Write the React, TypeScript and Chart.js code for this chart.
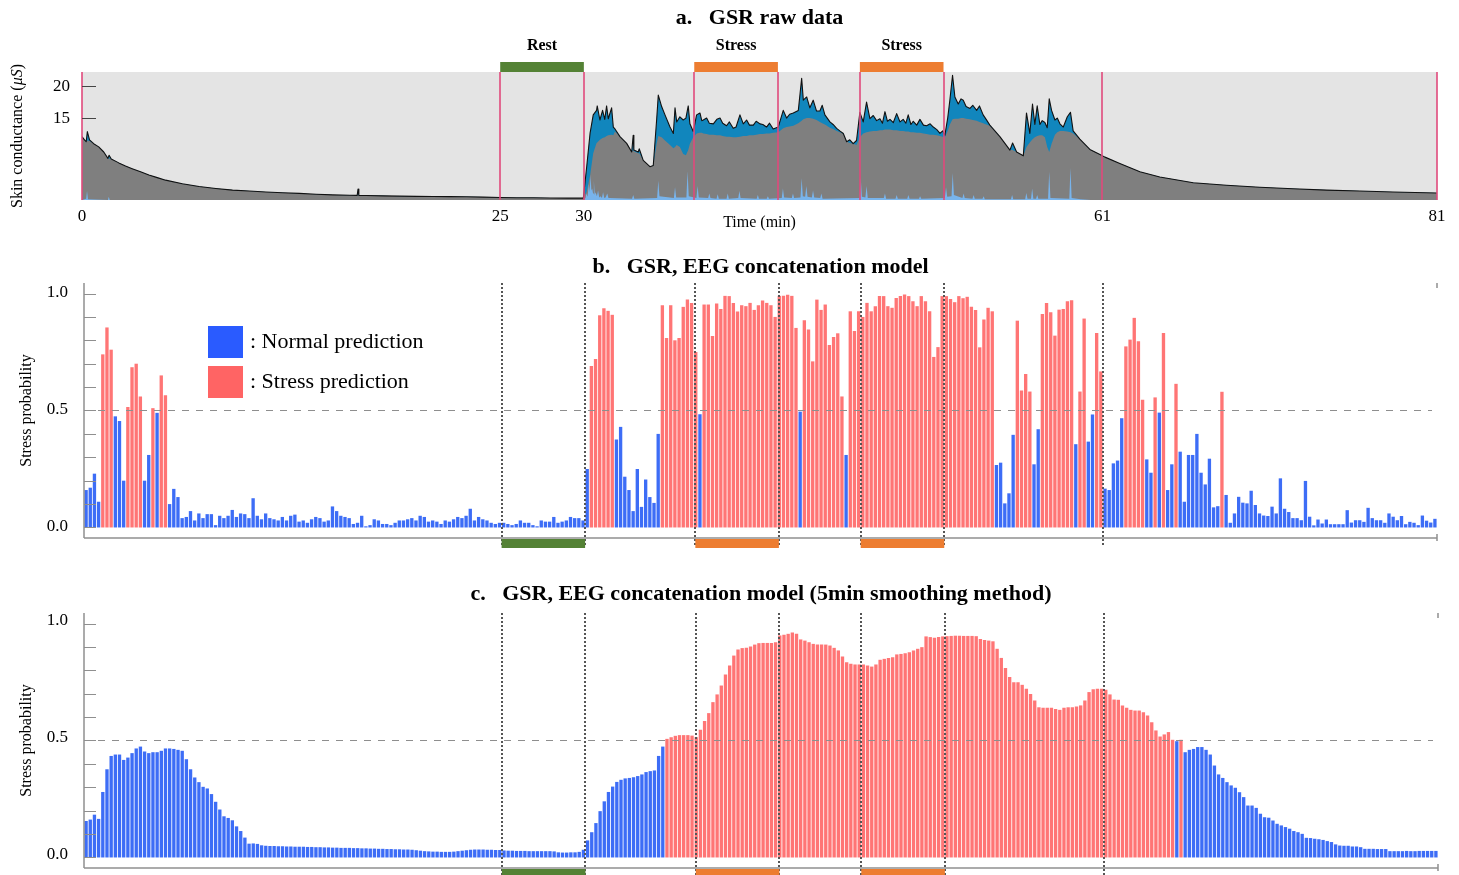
import React, { useEffect, useRef } from 'react';
import { Chart, registerables } from 'chart.js';

Chart.register(...registerables);

const W = 1459;
const SERIF = '"Liberation Serif", "Times New Roman", Times, serif';

// ---------------- session timeline (minutes) ----------------
const SESSION_END = 81;
const EVENT_TIMES = [25, 30, 36.6, 41.6, 46.5, 51.5, 61];
const PHASE_LABELS = ['Rest', 'Stress', 'Stress'];
const PHASE_START = [25, 36.6, 46.5];
const PHASE_END = [30, 41.6, 51.5];
const PHASE_KIND = ['rest', 'stress', 'stress'];

// ---------------- a. GSR raw data ----------------
const GSR_X_TICKS = [0, 25, 30, 61, 81];
const GSR_Y_TICKS = [15, 20];
const GSR_Y_MIN = 2.2;
const GSR_Y_MAX = 22.2;

const GSR_TIME_REST = [0, 0.15, 0.25, 0.32, 0.45, 0.7, 1.0, 1.3, 1.55, 1.62, 1.75, 2.2, 2.6, 3.0, 3.5, 4.0, 4.5, 5.0, 6.0, 7.0, 8.0, 9.0, 10, 11, 12, 13, 14, 15, 16, 16.45, 16.5, 16.55, 17, 18, 19, 20, 21, 22, 23, 24, 25, 26, 27, 28, 29, 29.97];
const GSR_RAW_REST = [12.1, 11.6, 11.3, 12.9, 11.6, 11.0, 10.5, 9.7, 8.7, 9.2, 8.6, 8.0, 7.5, 7.1, 6.6, 6.1, 5.7, 5.3, 4.75, 4.3, 4.0, 3.75, 3.6, 3.45, 3.33, 3.23, 3.1, 3.0, 2.95, 2.93, 3.9, 2.93, 2.9, 2.85, 2.8, 2.77, 2.75, 2.72, 2.7, 2.65, 2.6, 2.56, 2.54, 2.52, 2.5, 2.5];
const GSR_TONIC_REST = [12.1, 11.6, 11.3, 11.5, 11.4, 11.0, 10.5, 9.7, 8.7, 8.7, 8.6, 8.0, 7.5, 7.1, 6.6, 6.1, 5.7, 5.3, 4.75, 4.3, 4.0, 3.75, 3.6, 3.45, 3.33, 3.23, 3.1, 3.0, 2.95, 2.93, 2.93, 2.93, 2.9, 2.85, 2.8, 2.77, 2.75, 2.72, 2.7, 2.65, 2.6, 2.56, 2.54, 2.52, 2.5, 2.5];

const GSR_TIME_TASK = [
  30.17, 30.37, 30.56, 30.76, 30.8, 30.96, 31.12, 31.25, 31.36, 31.46,
  31.66, 31.76, 31.86, 32.16, 32.56, 32.86, 32.95, 32.99, 33.25, 33.31,
  33.55, 33.95, 34.15, 34.35, 34.45, 34.65, 34.85, 35.15, 35.35, 35.45,
  35.55, 35.74, 35.94, 36.1, 36.24, 36.34, 36.54, 36.74, 36.94, 37.05,
  37.14, 37.34, 37.5, 37.74, 37.95, 38.14, 38.3, 38.53, 38.7, 38.93,
  39.1, 39.33, 39.53, 39.73, 39.9, 40.13, 40.3, 40.53, 40.7, 40.92,
  41.1, 41.32, 41.62, 41.92, 42.12, 42.3, 42.52, 42.82, 43.02, 43.12,
  43.32, 43.51, 43.71, 43.91, 44.11, 44.25, 44.41, 44.71, 44.9, 45.11,
  45.3, 45.51, 45.71, 45.9, 46.1, 46.3, 46.5, 46.7, 46.9, 47.1,
  47.3, 47.5, 47.7, 47.85, 48.0, 48.15, 48.3, 48.5, 48.7, 48.9,
  49.09, 49.25, 49.39, 49.55, 49.69, 49.9, 50.09, 50.3, 50.49, 50.7,
  50.89, 51.1, 51.29, 51.45, 51.58, 51.75, 51.88, 52.04, 52.18, 52.38,
  52.55, 52.68, 52.85, 53.08, 53.25, 53.48, 53.65, 53.87, 54.05, 54.27,
  54.87, 55.47, 55.63, 55.87, 56.27, 56.46, 56.66, 56.82, 56.96, 57.1,
  57.26, 57.4, 57.56, 57.7, 57.82, 57.96, 58.16, 58.3, 58.46, 58.66,
  58.9, 59.09, 59.25, 59.65, 60.25, 60.85, 61.15, 62.04, 63.24, 64.43,
  66.43, 68.42, 70.41, 72.4, 74.4, 76.39, 78.38, 81,
];
const GSR_RAW_TASK = [
  7.4, 12.6, 15.5, 16.2, 16.9, 14.7, 16.2, 14.8, 16.9, 14.9,
  16.6, 13.6, 13.3, 12.1, 11.05, 9.7, 12.3, 10.0, 9.7, 10.2,
  8.4, 7.4, 7.6, 14.7, 18.6, 16.8, 15.5, 13.6, 12.6, 16.6,
  14.4, 15.2, 14.7, 15.0, 16.9, 14.1, 12.9, 15.5, 15.8, 14.6,
  14.7, 15.0, 14.2, 14.1, 14.8, 15.0, 14.2, 13.8, 14.4, 13.4,
  13.6, 15.5, 14.1, 14.7, 13.9, 13.9, 14.5, 14.1, 14.0, 13.6,
  14.2, 13.3, 13.6, 16.2, 15.0, 15.6, 15.8, 16.2, 21.2, 17.8,
  18.3, 16.6, 17.8, 16.1, 16.1, 17.0, 15.5, 14.4, 14.0, 13.4,
  13.0, 12.6, 11.3, 11.6, 11.0, 11.5, 15.9, 14.4, 17.5, 14.9,
  15.4, 14.6, 14.9, 14.2, 16.0, 14.5, 14.8, 14.3, 15.7, 14.4,
  14.8, 14.2, 15.5, 14.0, 14.5, 13.9, 14.8, 13.9, 13.8, 14.1,
  13.6, 13.2, 12.6, 13.0, 12.3, 15.0, 17.8, 21.7, 18.3, 17.2,
  18.0, 17.8, 16.8, 16.5, 17.0, 16.2, 16.9, 15.5, 14.8, 13.9,
  12.1, 10.0, 11.1, 9.7, 9.1, 15.8, 12.6, 17.2, 14.0, 16.9,
  14.0, 14.6, 14.3, 13.5, 18.0, 16.2, 14.7, 15.0, 14.1, 13.6,
  15.2, 15.9, 13.0, 11.7, 10.1, 9.3, 8.9, 7.9, 6.6, 5.8,
  4.9, 4.5, 4.2, 3.95, 3.75, 3.6, 3.45, 3.3,
];
const GSR_TONIC_TASK = [
  3.5, 6.0, 9.5, 11.1, 11.2, 11.6, 11.9, 12.0, 12.2, 12.3,
  12.4, 12.3, 12.9, 12.1, 11.05, 9.7, 10.0, 9.8, 9.5, 9.5,
  8.4, 7.4, 7.6, 11.0, 12.2, 12.0, 11.5, 10.8, 10.3, 10.5,
  10.8, 10.5, 9.4, 9.2, 10.0, 11.0, 12.0, 12.6, 12.7, 12.7,
  12.6, 12.5, 12.4, 12.4, 12.3, 12.3, 12.2, 12.1, 12.1, 12.0,
  12.0, 12.1, 12.2, 12.2, 12.3, 12.3, 12.4, 12.5, 12.5, 12.6,
  12.6, 12.7, 12.8, 13.4, 13.6, 13.7, 13.8, 14.2, 14.6, 14.8,
  15.0, 15.0, 14.9, 14.7, 14.4, 14.2, 14.0, 13.5, 13.3, 13.0,
  12.8, 12.5, 11.3, 11.1, 11.0, 10.8, 12.0, 12.6, 12.8, 12.9,
  13.0, 13.0, 13.1, 13.1, 13.2, 13.2, 13.2, 13.1, 13.1, 13.0,
  13.0, 12.9, 12.9, 12.8, 12.8, 12.7, 12.7, 12.6, 12.5, 12.4,
  12.4, 12.3, 12.2, 12.1, 12.0, 13.0, 14.0, 14.8, 14.9, 14.9,
  15.0, 15.0, 14.9, 14.8, 14.7, 14.6, 14.4, 14.2, 14.0, 13.8,
  12.1, 10.0, 10.0, 9.7, 9.1, 10.5, 11.2, 11.7, 12.0, 12.2,
  12.3, 12.3, 12.0, 10.5, 9.7, 11.0, 12.4, 12.8, 13.0, 13.0,
  12.9, 12.8, 12.6, 11.7, 10.1, 9.3, 8.9, 7.9, 6.6, 5.8,
  4.9, 4.5, 4.2, 3.95, 3.75, 3.6, 3.45, 3.3,
];

// phasic component (amplitude above the axis floor)
const PHASIC_TIME = [
  0, 0.25, 0.3, 0.36, 1.55, 1.6, 1.66, 29.97, 30.1, 30.15,
  30.22, 30.3, 30.35, 30.4, 30.45, 30.5, 30.55, 30.6, 30.65, 30.7,
  30.78, 30.85, 30.92, 31.0, 31.08, 31.15, 31.22, 31.3, 31.4, 31.47,
  31.55, 32.88, 32.95, 33.02, 34.38, 34.45, 34.52, 35.38, 35.45, 35.52,
  36.13, 36.2, 36.27, 36.73, 36.8, 36.87, 37.43, 37.5, 37.57, 37.93,
  38.0, 38.07, 38.53, 38.6, 38.67, 39.23, 39.3, 39.37, 40.33, 40.4,
  40.47, 40.93, 41.0, 41.07, 41.83, 41.9, 41.97, 42.43, 42.5, 42.57,
  42.95, 43.02, 43.09, 43.23, 43.3, 43.37, 43.63, 43.7, 43.77, 44.13,
  44.2, 44.27, 46.48, 46.55, 46.62, 46.83, 46.9, 46.97, 47.93, 48.0,
  48.07, 48.63, 48.7, 48.77, 49.33, 49.4, 49.47, 50.03, 50.1, 50.17,
  51.58, 51.65, 51.72, 51.98, 52.05, 52.12, 52.63, 52.7, 52.77, 53.23,
  53.3, 53.37, 53.83, 53.9, 53.97, 55.53, 55.6, 55.67, 56.38, 56.45,
  56.52, 56.73, 56.8, 56.87, 57.03, 57.1, 57.17, 57.75, 57.82, 57.89,
  59.02, 59.09, 59.16, 59.7, 60.3, 81,
];
const PHASIC_AMP = [
  0, 0.2, 1.4, 0.1, 0, 0.5, 0, 0, 0.3, 1.0,
  0.5, 2.5, 1.2, 4.0, 1.5, 1.8, 1.0, 3.0, 0.8, 1.2,
  0.6, 1.5, 0.4, 0.6, 0.3, 1.2, 0.3, 0.4, 1.0, 0.3,
  0.3, 0.2, 0.8, 0.2, 0.3, 3.0, 0.6, 0.3, 2.0, 0.4,
  0.4, 4.5, 0.6, 0.3, 2.2, 0.4, 0.3, 1.0, 0.3, 0.2,
  0.9, 0.2, 0.2, 1.0, 0.2, 0.3, 1.4, 0.3, 0.2, 0.8,
  0.2, 0.2, 0.6, 0.2, 0.3, 1.8, 0.4, 0.3, 1.0, 0.3,
  0.4, 3.4, 0.6, 0.5, 2.2, 0.5, 0.4, 1.5, 0.4, 0.3,
  1.0, 0.2, 0.3, 3.6, 0.5, 0.4, 2.2, 0.3, 0.3, 1.0,
  0.2, 0.2, 0.8, 0.2, 0.2, 0.8, 0.2, 0.2, 0.6, 0.2,
  0.3, 2.0, 0.5, 0.6, 4.2, 0.8, 0.3, 1.0, 0.3, 0.2,
  0.8, 0.2, 0.2, 0.6, 0.1, 0.1, 0.8, 0.1, 0.1, 1.1,
  0.2, 0.2, 1.8, 0.2, 0.2, 0.8, 0.2, 0.2, 4.4, 0.3,
  0.2, 5.0, 0.3, 0.1, 0, 0,
];

// ---------------- b/c. stress probability (15 s windows, 4 per minute) ----------------
const WINDOWS_PER_MIN = 4;
const THRESHOLD = 0.5;
const PROB_LABEL_TICKS = [0, 0.5, 1.0];
const PROB_MINOR_TICKS = [0, 0.1, 0.2, 0.3, 0.4, 0.5, 0.6, 0.7, 0.8, 0.9, 1.0];

// b. concatenation model, raw window predictions
const PRED_B_0_25A = [
  0.16, 0.17, 0.23, 0.11, 0.74, 0.855, 0.76, 0.475, 0.455, 0.2,
  0.515, 0.685, 0.7, 0.56, 0.2, 0.31, 0.51, 0.49, 0.65, 0.565,
  0.1, 0.165, 0.13, 0.04, 0.045, 0.07, 0.03, 0.06, 0.04, 0.057,
  0.057, 0.01, 0.05, 0.04, 0.05, 0.075, 0.045, 0.06, 0.057, 0.04,
  0.125,
];
const PRED_B_0_25B = [
  0.05, 0.035, 0.06, 0.04, 0.035, 0.03, 0.045, 0.03, 0.05, 0.055,
  0.025, 0.03, 0.02, 0.035, 0.045, 0.04, 0.025, 0.03, 0.09, 0.07,
  0.05, 0.045, 0.04, 0.015, 0.02, 0.05, 0.005, 0.01, 0.035, 0.03,
  0.015, 0.015, 0.01, 0.02, 0.03, 0.03, 0.035, 0.04, 0.03, 0.05,
  0.045, 0.025, 0.03, 0.025, 0.015, 0.03, 0.025, 0.035, 0.045, 0.04,
  0.05, 0.08, 0.03, 0.045, 0.035, 0.03, 0.02, 0.015, 0.02,
];
const PRED_B_REST = [0.02, 0.015, 0.01, 0.015, 0.03, 0.02, 0.02, 0.01, 0.005, 0.03, 0.025, 0.025, 0.045, 0.02, 0.025, 0.03, 0.045, 0.04, 0.04, 0.03];
const PRED_B_PRE1 = [
  0.25, 0.69, 0.72, 0.907, 0.937, 0.926, 0.909, 0.376, 0.43, 0.217,
  0.16, 0.07, 0.25, 0.088, 0.205, 0.13, 0.105, 0.4, 0.95, 0.81,
  0.95, 0.8, 0.81, 0.943, 0.974, 0.96, 0.75,
];
const PRED_B_STRESS1 = [0.484, 0.953, 0.953, 0.818, 0.957, 0.934, 0.99, 0.989, 0.96, 0.923, 0.95, 0.946, 0.96, 0.93, 0.95, 0.97, 0.96, 0.95, 0.9, 0.99];
const PRED_B_MID = [0.99, 0.995, 0.99, 0.853, 0.495, 0.886, 0.846, 0.71, 0.974, 0.93, 0.953, 0.78, 0.814, 0.83, 0.56, 0.31, 0.924, 0.84, 0.924];
const PRED_B_STRESS2 = [0.9, 0.96, 0.924, 0.946, 0.989, 0.989, 0.946, 0.939, 0.981, 0.989, 0.996, 0.989, 0.967, 0.946, 0.989, 0.967, 0.924, 0.729, 0.771, 0.989];
const PRED_B_POST = [
  0.989, 0.977, 0.963, 0.989, 0.98, 0.986, 0.943, 0.93, 0.77, 0.889,
  0.939, 0.924, 0.267, 0.277, 0.103, 0.146, 0.396, 0.884, 0.586, 0.656,
  0.581, 0.27, 0.42, 0.913, 0.96, 0.92, 0.82, 0.931, 0.934, 0.967,
  0.971, 0.356, 0.581, 0.893, 0.367, 0.483, 0.831, 0.667,
];
const PRED_B_RECOVERY = [
  0.166, 0.16, 0.274, 0.286, 0.467, 0.774, 0.803, 0.896, 0.796, 0.546,
  0.291, 0.234, 0.556, 0.491, 0.831, 0.16, 0.27, 0.614, 0.324, 0.11,
  0.31, 0.31, 0.4, 0.234, 0.184, 0.294, 0.086, 0.091, 0.58, 0.139,
  0.02, 0.06, 0.131, 0.106, 0.103, 0.157, 0.096, 0.06, 0.051, 0.049,
  0.089, 0.06, 0.21, 0.08, 0.066, 0.04, 0.04, 0.031, 0.199, 0.046,
  0.009, 0.034, 0.017, 0.034, 0.014, 0.014, 0.014, 0.014, 0.074, 0.021,
  0.031, 0.031, 0.024, 0.084, 0.04, 0.031, 0.031, 0.02, 0.06, 0.046,
  0.031, 0.049, 0.014, 0.024, 0.02, 0.01, 0.051, 0.029, 0.021, 0.037,
];

// c. concatenation model, 5-min smoothed
const PRED_C_0_10 = [
  0.156, 0.162, 0.183, 0.165, 0.28, 0.377, 0.434, 0.44, 0.44, 0.417,
  0.427, 0.446, 0.466, 0.474, 0.453, 0.446, 0.45, 0.45, 0.456, 0.466,
  0.466, 0.464, 0.46, 0.456, 0.42, 0.377, 0.342, 0.322, 0.302, 0.295,
  0.271, 0.238, 0.205, 0.176, 0.169, 0.159, 0.133, 0.113, 0.085, 0.059,
];
const PRED_C_10_25 = [
  0.06, 0.058, 0.052, 0.05, 0.049, 0.049, 0.048, 0.048, 0.047, 0.047,
  0.046, 0.046, 0.046, 0.045, 0.045, 0.044, 0.044, 0.043, 0.043, 0.042,
  0.042, 0.041, 0.041, 0.041, 0.04, 0.04, 0.039, 0.039, 0.038, 0.038,
  0.037, 0.037, 0.036, 0.036, 0.035, 0.035, 0.034, 0.034, 0.033, 0.031,
  0.029, 0.027, 0.026, 0.025, 0.025, 0.024, 0.024, 0.024, 0.025, 0.027,
  0.029, 0.031, 0.033, 0.034, 0.034, 0.034, 0.033, 0.033, 0.032, 0.032,
];
const PRED_C_REST = [0.03, 0.029, 0.029, 0.028, 0.028, 0.028, 0.027, 0.027, 0.027, 0.027, 0.027, 0.027, 0.026, 0.022, 0.021, 0.021, 0.022, 0.022, 0.024];
const PRED_C_PRE1 = [
  0.033, 0.073, 0.108, 0.147, 0.198, 0.24, 0.28, 0.303, 0.323, 0.332,
  0.338, 0.34, 0.343, 0.348, 0.355, 0.365, 0.369, 0.372, 0.434, 0.474,
  0.507, 0.514, 0.52, 0.523, 0.523, 0.523, 0.521, 0.514,
];
const PRED_C_STRESS1 = [0.546, 0.583, 0.617, 0.664, 0.697, 0.735, 0.782, 0.821, 0.863, 0.889, 0.895, 0.896, 0.902, 0.91, 0.916, 0.917, 0.917, 0.917, 0.92, 0.949];
const PRED_C_MID = [0.952, 0.956, 0.962, 0.956, 0.932, 0.927, 0.92, 0.913, 0.91, 0.91, 0.91, 0.906, 0.896, 0.885, 0.859, 0.835, 0.828, 0.825, 0.825, 0.825];
const PRED_C_STRESS2 = [0.821, 0.816, 0.825, 0.845, 0.849, 0.853, 0.856, 0.868, 0.87, 0.873, 0.877, 0.885, 0.892, 0.899, 0.945, 0.942, 0.939, 0.942, 0.945, 0.946];
const PRED_C_POST = [
  0.947, 0.948, 0.948, 0.947, 0.947, 0.947, 0.946,
  0.934, 0.93, 0.927, 0.924, 0.892, 0.853, 0.81, 0.771, 0.749, 0.749,
  0.738, 0.721, 0.699, 0.671, 0.642, 0.64, 0.64, 0.64, 0.635, 0.631,
  0.64, 0.642, 0.642, 0.645, 0.65, 0.671, 0.707, 0.719, 0.721, 0.721,
  0.717, 0.697,
];
const PRED_C_RECOVERY = [
  0.675, 0.674, 0.65, 0.64, 0.631, 0.628, 0.628, 0.621, 0.607, 0.578,
  0.543, 0.517, 0.526, 0.536, 0.503, 0.497, 0.503,
  0.45, 0.46, 0.464, 0.472, 0.472, 0.46, 0.44, 0.393, 0.355, 0.34,
  0.322, 0.308, 0.298, 0.279, 0.258, 0.222, 0.222, 0.212, 0.187, 0.172,
  0.17, 0.158, 0.144, 0.137, 0.13, 0.123, 0.113, 0.108, 0.101, 0.084,
  0.083, 0.08, 0.078, 0.075, 0.07, 0.066, 0.056, 0.051, 0.05, 0.05,
  0.047, 0.047, 0.044, 0.037, 0.037, 0.037, 0.036, 0.036, 0.036,
  0.027, 0.027, 0.027, 0.027, 0.028, 0.027, 0.027, 0.028, 0.028, 0.028, 0.028, 0.028,
];

const PRED_B = [...PRED_B_0_25A, ...PRED_B_0_25B, ...PRED_B_REST, ...PRED_B_PRE1, ...PRED_B_STRESS1, ...PRED_B_MID, ...PRED_B_STRESS2, ...PRED_B_POST, ...PRED_B_RECOVERY];
const PRED_C = [...PRED_C_0_10, ...PRED_C_10_25, ...PRED_C_REST, ...PRED_C_PRE1, ...PRED_C_STRESS1, ...PRED_C_MID, ...PRED_C_STRESS2, ...PRED_C_POST, ...PRED_C_RECOVERY];
const WINDOW_LABELS = Array.from({ length: SESSION_END * WINDOWS_PER_MIN }, (_, i) => (i / WINDOWS_PER_MIN).toFixed(2));

// ---------------- styles ----------------
const C_BLUE = '#3d6df6';
const C_RED = '#ff7575';
const C_LEG_BLUE = '#2a5bff';
const C_LEG_RED = '#ff6464';
const C_REST = '#548235';
const C_STRESS = '#ed7d31';
const C_EVENT = '#e04a7c';

function line(ctx: CanvasRenderingContext2D, x1: number, y1: number, x2: number, y2: number) {
  ctx.beginPath();
  ctx.moveTo(x1, y1);
  ctx.lineTo(x2, y2);
  ctx.stroke();
}

function drawRotated(ctx: CanvasRenderingContext2D, cx: number, cy: number, parts: [string, string][]) {
  ctx.save();
  ctx.translate(cx, cy);
  ctx.rotate(-Math.PI / 2);
  let total = 0;
  const widths = parts.map(([t, f]) => {
    ctx.font = f;
    const w = ctx.measureText(t).width;
    total += w;
    return w;
  });
  let x = -total / 2;
  ctx.textAlign = 'left';
  ctx.textBaseline = 'middle';
  ctx.fillStyle = '#000';
  parts.forEach(([t, f], i) => {
    ctx.font = f;
    ctx.fillText(t, x, 0);
    x += widths[i];
  });
  ctx.restore();
}

function phaseColor(i: number) {
  return PHASE_KIND[i] === 'rest' ? C_REST : C_STRESS;
}

// ---------- panel a ----------
const gsrPlugin = {
  id: 'gsrDecor',
  beforeDatasetsDraw(chart: any) {
    const { ctx, chartArea: a } = chart;
    ctx.save();
    ctx.fillStyle = '#e4e4e4';
    ctx.fillRect(a.left, a.top, a.right - a.left, a.bottom - a.top);
    ctx.restore();
  },
  afterDatasetsDraw(chart: any) {
    const { ctx, chartArea: a, scales } = chart;
    const x = scales.x;
    const y = scales.y;
    ctx.save();
    // event lines
    ctx.strokeStyle = C_EVENT;
    ctx.lineWidth = 1.6;
    [0, ...EVENT_TIMES, SESSION_END].forEach((t) => {
      const px = Math.round(x.getPixelForValue(t));
      line(ctx, px, a.top, px, a.bottom);
    });
    // y ticks
    ctx.strokeStyle = '#444';
    ctx.lineWidth = 1;
    ctx.fillStyle = '#000';
    ctx.font = `17px ${SERIF}`;
    ctx.textAlign = 'right';
    ctx.textBaseline = 'middle';
    GSR_Y_TICKS.forEach((v) => {
      const py = Math.round(y.getPixelForValue(v)) + 0.5;
      line(ctx, a.left, py, a.left + 14, py);
      ctx.fillText(String(v), a.left - 12, py);
    });
    // x tick labels
    ctx.textAlign = 'center';
    GSR_X_TICKS.forEach((t) => {
      ctx.fillText(String(t), x.getPixelForValue(t), a.bottom + 17);
    });
    ctx.font = `16px ${SERIF}`;
    ctx.fillText('Time (min)', (a.left + a.right) / 2, a.bottom + 23);
    // phase bars
    PHASE_START.forEach((s, i) => {
      const x1 = x.getPixelForValue(s);
      const x2 = x.getPixelForValue(PHASE_END[i]);
      ctx.fillStyle = phaseColor(i);
      ctx.fillRect(x1, a.top - 10, x2 - x1, 10);
      ctx.fillStyle = '#000';
      ctx.font = `bold 16px ${SERIF}`;
      ctx.fillText(PHASE_LABELS[i], (x1 + x2) / 2, a.top - 26);
    });
    // title
    ctx.font = `bold 22px ${SERIF}`;
    ctx.fillText('a.   GSR raw data', (a.left + a.right) / 2, 18);
    ctx.restore();
    drawRotated(ctx, 18, (a.top + a.bottom) / 2, [
      ['Skin conductance (', `16px ${SERIF}`],
      ['\u03BCS', `italic 16px ${SERIF}`],
      [')', `16px ${SERIF}`],
    ]);
  },
};

function gsrConfig(): any {
  const time = [...GSR_TIME_REST, ...GSR_TIME_TASK];
  const raw = [...GSR_RAW_REST, ...GSR_RAW_TASK];
  const tonic = [...GSR_TONIC_REST, ...GSR_TONIC_TASK];
  const rawXY = time.map((t, i) => ({ x: t, y: raw[i] }));
  const tonicXY = time.map((t, i) => ({ x: t, y: tonic[i] }));
  const phasicXY = PHASIC_TIME.map((t, i) => ({ x: t, y: GSR_Y_MIN + PHASIC_AMP[i] }));
  const base = { pointRadius: 0, tension: 0, borderColor: 'transparent', borderWidth: 0 };
  return {
    type: 'line',
    data: {
      datasets: [
        { ...base, label: 'Raw', data: rawXY, borderColor: '#111', borderWidth: 1.1, fill: false, order: 0, borderJoinStyle: 'round' },
        { ...base, label: 'Phasic', data: phasicXY, backgroundColor: '#78b4ec', fill: 'origin', order: 1 },
        { ...base, label: 'Tonic', data: tonicXY, backgroundColor: '#7f7f7f', fill: 'origin', order: 2 },
        { ...base, label: 'Raw area', data: rawXY, backgroundColor: '#1186bd', fill: 'origin', order: 3 },
      ],
    },
    options: {
      animation: false,
      responsive: false,
      devicePixelRatio: 1,
      events: [],
      layout: { padding: { left: 82, right: 22, top: 72, bottom: 35 } },
      scales: {
        x: { type: 'linear', min: 0, max: SESSION_END, display: false, offset: false },
        y: { type: 'linear', min: GSR_Y_MIN, max: GSR_Y_MAX, display: false },
      },
      plugins: { legend: { display: false }, tooltip: { enabled: false } },
    },
    plugins: [gsrPlugin],
  };
}

// ---------- panels b / c ----------
function barDecorPlugin(title: string, titleY: number, labelDy: number, legend: boolean) {
  return {
    id: 'barDecor',
    afterDatasetsDraw(chart: any) {
      const { ctx, chartArea: a, scales } = chart;
      const y = scales.y;
      const xt = scales.xt;
      ctx.save();
      // threshold
      ctx.strokeStyle = '#8e8e8e';
      ctx.lineWidth = 1.2;
      ctx.setLineDash([7, 7]);
      const py = Math.round(y.getPixelForValue(THRESHOLD)) + 0.5;
      line(ctx, a.left, py, a.right - 5, py);
      // event lines
      ctx.strokeStyle = '#555';
      ctx.lineWidth = 2;
      ctx.setLineDash([2, 2]);
      EVENT_TIMES.forEach((t) => {
        const px = Math.round(xt.getPixelForValue(t));
        line(ctx, px, a.top, px, a.bottom + 8);
      });
      ctx.setLineDash([]);
      // axes
      ctx.strokeStyle = '#8f8f8f';
      ctx.lineWidth = 1.5;
      line(ctx, a.left, a.top, a.left, a.bottom);
      line(ctx, a.left, a.bottom, a.right, a.bottom);
      line(ctx, a.right, a.top, a.right, a.top + 5);
      line(ctx, a.right, a.bottom - 4, a.right, a.bottom + 3);
      ctx.lineWidth = 1;
      PROB_MINOR_TICKS.forEach((v) => {
        const p = Math.round(y.getPixelForValue(v)) + 0.5;
        line(ctx, a.left, p, a.left + 12, p);
      });
      // y labels
      ctx.fillStyle = '#000';
      ctx.font = `17px ${SERIF}`;
      ctx.textAlign = 'right';
      ctx.textBaseline = 'middle';
      PROB_LABEL_TICKS.forEach((v) => {
        ctx.fillText(v.toFixed(1), a.left - 16, y.getPixelForValue(v) + labelDy);
      });
      // phase bars
      PHASE_START.forEach((s, i) => {
        const x1 = xt.getPixelForValue(s);
        const x2 = xt.getPixelForValue(PHASE_END[i]);
        ctx.fillStyle = phaseColor(i);
        ctx.fillRect(x1, a.bottom + 1, x2 - x1, 9);
      });
      // title
      ctx.fillStyle = '#000';
      ctx.textAlign = 'center';
      ctx.font = `bold 22px ${SERIF}`;
      ctx.fillText(title, (a.left + a.right) / 2, titleY);
      // legend
      if (legend) {
        ctx.fillStyle = C_LEG_BLUE;
        ctx.fillRect(208, 81, 35, 32);
        ctx.fillStyle = C_LEG_RED;
        ctx.fillRect(208, 121, 35, 32);
        ctx.fillStyle = '#000';
        ctx.textAlign = 'left';
        ctx.font = `22px ${SERIF}`;
        ctx.fillText(': Normal prediction', 250, 97);
        ctx.fillText(': Stress prediction', 250, 137);
      }
      ctx.restore();
      drawRotated(ctx, 27, (a.top + a.bottom) / 2, [['Stress probability', `16px ${SERIF}`]]);
    },
  };
}

function barConfig(values: number[], padding: any, plugin: any): any {
  return {
    type: 'bar',
    data: {
      labels: WINDOW_LABELS,
      datasets: [
        {
          label: 'Stress probability',
          data: values,
          backgroundColor: values.map((v) => (v >= THRESHOLD ? C_RED : C_BLUE)),
          borderWidth: 0,
          barPercentage: 0.8,
          categoryPercentage: 1.0,
        },
      ],
    },
    options: {
      animation: false,
      responsive: false,
      devicePixelRatio: 1,
      events: [],
      layout: { padding },
      scales: {
        x: { type: 'category', offset: true, display: false },
        xt: { type: 'linear', min: 0, max: SESSION_END, display: false, position: 'bottom', offset: false, grid: { offset: false } },
        y: { type: 'linear', min: -0.045, max: 1.045, display: false },
      },
      plugins: { legend: { display: false }, tooltip: { enabled: false } },
    },
    plugins: [plugin],
  };
}

function ChartCanvas({ top, height, make }: { top: number; height: number; make: () => any }) {
  const ref = useRef<HTMLCanvasElement>(null);
  useEffect(() => {
    const chart = new Chart(ref.current as HTMLCanvasElement, make());
    return () => chart.destroy();
  }, []);
  return (
    <canvas
      ref={ref}
      width={W}
      height={height}
      style={{ position: 'absolute', left: 0, top, width: W, height }}
    />
  );
}

export default function App() {
  return (
    <div style={{ position: 'absolute', left: 0, top: 0, width: W, height: 875, background: '#fff', overflow: 'hidden' }}>
      <ChartCanvas top={0} height={235} make={gsrConfig} />
      <ChartCanvas
        top={245}
        height={320}
        make={() =>
          barConfig(PRED_B, { left: 84, right: 22, top: 38, bottom: 27 }, barDecorPlugin('b.   GSR, EEG concatenation model', 22, -1, true))
        }
      />
      <ChartCanvas
        top={565}
        height={310}
        make={() =>
          barConfig(PRED_C, { left: 84, right: 21, top: 48, bottom: 7 }, barDecorPlugin('c.   GSR, EEG concatenation model (5min smoothing method)', 29, -3, false))
        }
      />
    </div>
  );
}
